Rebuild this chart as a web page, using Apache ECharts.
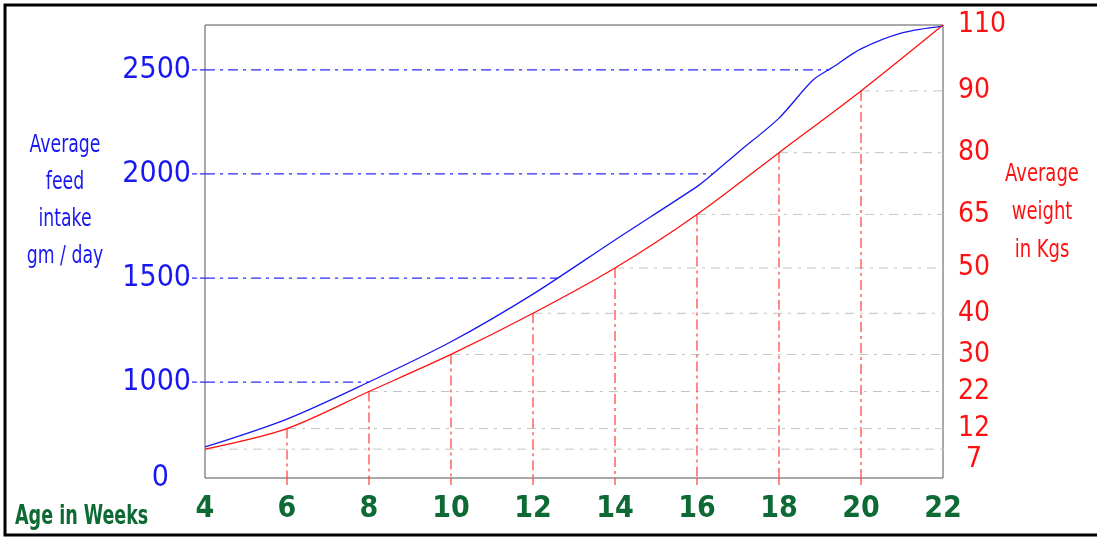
<!DOCTYPE html>
<html>
<head>
<meta charset="utf-8">
<script src="https://cdn.jsdelivr.net/npm/echarts@6/dist/echarts.min.js"></script>
<style>
  html, body { margin: 0; padding: 0; background: #fff; }
  #chart { width: 1097px; height: 540px; }
</style>
</head>
<body>
<div id="chart"></div>
<script>
// x axis ticks (age in weeks)
const weeks = [4, 6, 8, 10, 12, 14, 16, 18, 20, 22];

// feed intake curve (gm/day)
const feedWeeks = [4, 6, 8, 10, 12, 14, 16, 16.24, 17, 18, 18.83, 19.32, 20, 21, 22];
const feedIntake = [689, 823, 1001, 1194, 1423, 1683, 1939, 1976, 2103, 2268, 2451, 2513, 2600, 2677, 2710];

// left axis ticks and the week where each dash line meets the curve
const feedTicks = [1000, 1500, 2000, 2500];
const feedTickWeeks = [8, 12.6, 16.38, 19.22];

// weight curve (kg) at each week, and the labels written on the right axis
const weightKg = [7, 12, 21, 30, 40, 51, 64, 79, 94, 110];
const weightLabels = ['7', '12', '22', '30', '40', '50', '65', '80', '90', '110'];

const FONT = "'DejaVu Sans Condensed', 'Liberation Sans Narrow', sans-serif";
const BLUE = '#1818f0';
const RED = '#ff1010';
const GREEN = '#0d6a34';
// the original axis is broken below 1000, its "0" sits at the bottom
const feedMin = 540;
const feedMax = 2715;

const chart = echarts.init(document.getElementById('chart'));

const guide = (yAxisIndex, data, color, width, dash) => ({
  type: 'line',
  yAxisIndex,
  data,
  silent: true,
  showSymbol: false,
  symbol: 'none',
  z: 1,
  lineStyle: { color, width, type: dash },
});

const blueDash = feedTicks.map((v, i) =>
  guide(0, [[4, v], [feedTickWeeks[i], v]], '#2a2aff', 1.3, [10, 5, 3, 5])
);
const greyDash = weeks.slice(0, -1).map((w, i) =>
  guide(1, [[w, weightKg[i]], [22, weightKg[i]]], '#c4c4c4', 1, [9, 6, 3, 6])
);
const redDrop = weeks.slice(1, -1).map((w, i) =>
  guide(1, [[w, weightKg[i + 1]], [w, 0]], '#ff3a3a', 1.2, [10, 4, 3, 4])
);

// right axis labels sit close together, so they are split over two
// identical axes to keep echarts from hiding any of them
const weightAxis = (keep) => ({
  type: 'value',
  position: 'right',
  min: 0,
  max: 110,
  axisLine: { show: false },
  axisTick: { show: false },
  splitLine: { show: false },
  axisLabel: {
    customValues: weightKg.filter((_, i) => i % 2 === keep),
    showMinLabel: true,
    color: RED,
    fontFamily: FONT,
    fontSize: 28,
    margin: 15,
    formatter: (v) => {
      const i = weightKg.indexOf(v);
      // the first label is nudged down and right, as in the original
      return i === 0 ? '{low|' + weightLabels[i] + '}' : weightLabels[i];
    },
    rich: {
      low: { color: RED, fontFamily: FONT, fontSize: 28, padding: [22, 0, 0, 8] },
    },
  },
});

const option = {
  animation: false,
  grid: {
    left: 205,
    right: 154,
    top: 25,
    bottom: 62,
    show: true,
    borderColor: '#555',
    borderWidth: 1,
  },
  xAxis: {
    type: 'value',
    min: 4,
    max: 22,
    interval: 2,
    axisLine: { show: false },
    axisTick: { show: false },
    splitLine: { show: false },
    axisLabel: {
      color: GREEN,
      fontFamily: FONT,
      fontWeight: 'bold',
      fontSize: 30,
      margin: 16,
    },
  },
  yAxis: [
    {
      type: 'value',
      min: feedMin,
      max: feedMax,
      axisLine: { show: false },
      axisTick: { show: false },
      splitLine: { show: false },
      axisLabel: {
        customValues: [feedMin, ...feedTicks],
        showMinLabel: true,
        color: BLUE,
        fontFamily: FONT,
        fontSize: 30,
        margin: 14,
        formatter: (v) => (v === feedMin ? '{zero|0}' : String(v)),
        rich: {
          zero: { color: BLUE, fontFamily: FONT, fontSize: 30, padding: [0, 22, 0, 0] },
        },
      },
    },
    weightAxis(0),
    weightAxis(1),
  ],
  series: [
    ...greyDash,
    ...redDrop,
    ...blueDash,
    {
      id: 'feed',
      type: 'line',
      yAxisIndex: 0,
      data: feedWeeks.map((w, i) => [w, feedIntake[i]]),
      smooth: 0.3,
      showSymbol: false,
      z: 3,
      lineStyle: { color: BLUE, width: 1.3 },
    },
    {
      id: 'weight',
      type: 'line',
      yAxisIndex: 1,
      data: weeks.map((w, i) => [w, weightKg[i]]),
      smooth: 0.3,
      showSymbol: false,
      z: 3,
      lineStyle: { color: RED, width: 1.3 },
    },
  ],
  graphic: [
    {
      type: 'rect',
      shape: { x: 5, y: 5, width: 1100, height: 530 },
      style: { fill: 'none', stroke: '#000', lineWidth: 3 },
      silent: true,
    },
    {
      type: 'text',
      x: 65,
      y: 201,
      scaleX: 0.8,
      style: {
        text: 'Average\nfeed\nintake\ngm / day',
        fill: BLUE,
        font: '24px ' + FONT,
        lineHeight: 37,
        align: 'center',
        verticalAlign: 'middle',
      },
    },
    {
      type: 'text',
      x: 1042,
      y: 212,
      scaleX: 0.8,
      style: {
        text: 'Average\nweight\nin Kgs',
        fill: RED,
        font: '25px ' + FONT,
        lineHeight: 38,
        align: 'center',
        verticalAlign: 'middle',
      },
    },
    {
      type: 'text',
      x: 15,
      y: 517,
      scaleX: 0.75,
      style: {
        text: 'Age in Weeks',
        fill: GREEN,
        font: 'bold 26px ' + FONT,
        verticalAlign: 'middle',
      },
    },
  ],
};

chart.setOption(option);

// short stubs where the guide lines run past the frame (left for blue, below for red)
const stubs = [];
feedTicks.forEach((v) => {
  const p = chart.convertToPixel({ seriesId: 'feed' }, [4, v]);
  stubs.push({
    type: 'line',
    silent: true,
    shape: { x1: p[0] - 13, y1: p[1], x2: p[0], y2: p[1] },
    style: { stroke: '#2a2aff', lineWidth: 1.3, lineDash: [5, 3] },
  });
});
weeks.slice(1, -1).forEach((w) => {
  const p = chart.convertToPixel({ seriesId: 'weight' }, [w, 0]);
  stubs.push({
    type: 'line',
    silent: true,
    shape: { x1: p[0], y1: p[1], x2: p[0], y2: p[1] + 7 },
    style: { stroke: '#ff3a3a', lineWidth: 1.2 },
  });
});
chart.setOption({ graphic: option.graphic.concat(stubs) });

window.addEventListener('resize', () => chart.resize());
</script>
</body>
</html>
